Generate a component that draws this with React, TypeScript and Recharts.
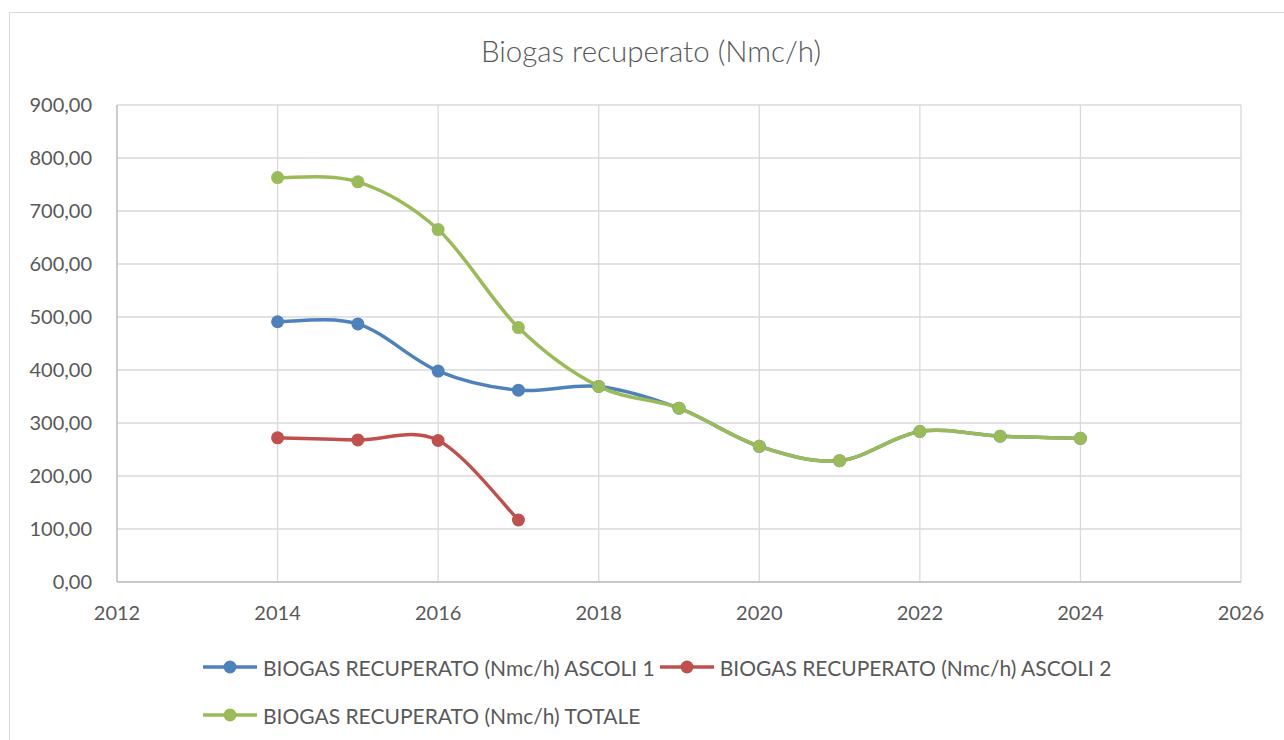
import React from 'react';
import { LineChart, Line, XAxis, YAxis, CartesianGrid, Legend } from 'recharts';

const years = [2014, 2015, 2016, 2017, 2018, 2019, 2020, 2021, 2022, 2023, 2024];
const ascoli1 = [491, 487, 398, 362, 369, 328, 256, 229, 284, 275, 271];
const ascoli2: (number | null)[] = [272, 268, 267, 117, null, null, null, null, null, null, null];
const totale = [763, 755, 665, 480, 369, 328, 256, 229, 284, 275, 271];

const xTicks = [2012, 2014, 2016, 2018, 2020, 2022, 2024, 2026];
const yTicks = [0, 100, 200, 300, 400, 500, 600, 700, 800, 900];

const seriesNames = [
  'BIOGAS RECUPERATO (Nmc/h) ASCOLI 1',
  'BIOGAS RECUPERATO (Nmc/h) ASCOLI 2',
  'BIOGAS RECUPERATO (Nmc/h) TOTALE',
];
const seriesKeys = ['a1', 'a2', 'tot'];
const seriesColors = ['#4F81BD', '#C0504D', '#9BBB59'];

const data = years.map((y, i) => ({ year: y, a1: ascoli1[i], a2: ascoli2[i], tot: totale[i] }));

const FONT = 'Lato, "Open Sans", sans-serif';
const TEXT = '#595959';

// Excel-like smoothing (Catmull-Rom / Bezier with 1/6 tangents)
function excelSmooth(context: any) {
  let pts: [number, number][] = [];
  return {
    areaStart() {},
    areaEnd() {},
    lineStart() {
      pts = [];
    },
    point(x: number, y: number) {
      pts.push([+x, +y]);
    },
    lineEnd() {
      const n = pts.length;
      if (!n) return;
      context.moveTo(pts[0][0], pts[0][1]);
      if (n === 1) {
        context.lineTo(pts[0][0], pts[0][1]);
        return;
      }
      for (let i = 0; i < n - 1; i++) {
        const p0 = pts[Math.max(i - 1, 0)];
        const p1 = pts[i];
        const p2 = pts[i + 1];
        const p3 = pts[Math.min(i + 2, n - 1)];
        const c1x = p1[0] + (p2[0] - p0[0]) / 6;
        const c1y = p1[1] + (p2[1] - p0[1]) / 6;
        const c2x = p2[0] - (p3[0] - p1[0]) / 6;
        const c2y = p2[1] - (p3[1] - p1[1]) / 6;
        context.bezierCurveTo(c1x, c1y, c2x, c2y, p2[0], p2[1]);
      }
    },
  };
}

const fmt = (v: number) => v.toFixed(2).replace('.', ',');

const LegendContent = () => (
  <div style={{ display: 'flex', flexWrap: 'wrap', width: 1000, fontFamily: FONT }}>
    {seriesNames.map((name, i) => (
      <div key={name} style={{ display: 'flex', alignItems: 'center', height: 48, marginRight: 5 }}>
        <svg width={54} height={16} style={{ marginRight: 6 }}>
          <line x1={0} y1={8} x2={54} y2={8} stroke={seriesColors[i]} strokeWidth={3.5} />
          <circle cx={27} cy={8} r={6.5} fill={seriesColors[i]} />
        </svg>
        <span style={{ fontSize: 21, color: TEXT, whiteSpace: 'nowrap' }}>{name}</span>
      </div>
    ))}
  </div>
);

export default function App() {
  return (
    <div style={{ position: 'absolute', left: 0, top: 0, width: 1284, height: 740, overflow: 'hidden', background: '#fff' }}>
      <div
        style={{
          position: 'absolute',
          left: 9,
          top: 12,
          width: 1400,
          height: 800,
          border: '1px solid #D9D9D9',
          boxSizing: 'border-box',
        }}
      />
      <svg style={{ position: 'absolute', left: 0, top: 0 }} width={1284} height={100}>
        <text x={651} y={62} textAnchor="middle" fontFamily={FONT} fontSize={29.5} fill={TEXT} fontWeight={300}>
          Biogas recuperato (Nmc/h)
        </text>
      </svg>
      <div style={{ position: 'absolute', left: 0, top: 0 }}>
        <LineChart
          width={1284}
          height={740}
          data={data}
          margin={{ top: 105, right: 43, bottom: 128, left: 17 }}
        >
          <CartesianGrid stroke="#D9D9D9" strokeWidth={1.3} />
          <XAxis
            dataKey="year"
            type="number"
            domain={[2012, 2026]}
            ticks={xTicks}
            allowDataOverflow
            height={30}
            tickLine={false}
            tickSize={0}
            tickMargin={24}
            axisLine={{ stroke: '#BFBFBF', strokeWidth: 1.3 }}
            tick={{ fill: TEXT, fontSize: 20, fontFamily: FONT }}
          />
          <YAxis
            type="number"
            domain={[0, 900]}
            ticks={yTicks}
            width={100}
            tickLine={false}
            tickSize={0}
            tickMargin={25}
            tickFormatter={fmt}
            axisLine={{ stroke: '#BFBFBF', strokeWidth: 1.3 }}
            tick={{ fill: TEXT, fontSize: 20, fontFamily: FONT }}
          />
          <Legend
            layout="horizontal"
            verticalAlign="middle"
            align="center"
            content={<LegendContent />}
            wrapperStyle={{ position: 'absolute', left: 203, top: 643, width: 1000, height: 96, margin: 0 }}
          />
          {seriesKeys.map((k, i) => (
            <Line
              key={k}
              dataKey={k}
              name={seriesNames[i]}
              type={excelSmooth as any}
              stroke={seriesColors[i]}
              strokeWidth={3.5}
              dot={{ r: 6.5, fill: seriesColors[i], stroke: seriesColors[i], strokeWidth: 0 }}
              activeDot={false}
              isAnimationActive={false}
            />
          ))}
        </LineChart>
      </div>
    </div>
  );
}
